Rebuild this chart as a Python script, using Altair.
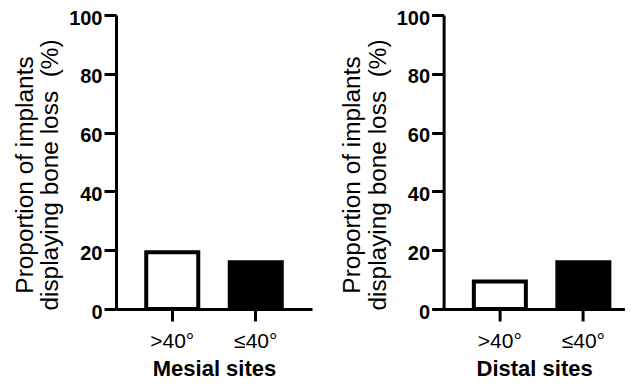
import altair as alt
import pandas as pd

categories = [">40°", "≤40°"]
mesial_values = [20.0, 16.6]
distal_values = [10.0, 16.6]
panel_titles = ["Mesial sites", "Distal sites"]
y_ticks = [0, 20, 40, 60, 80, 100]
y_title = ["Proportion of implants", "displaying bone loss \u00a0(%)"]
bar_fills = ["white", "black"]

FONT = "Liberation Sans"


def panel(values, title, width, pad_outer, align):
    df = pd.DataFrame({"group": categories, "value": values})
    return (
        alt.Chart(df)
        .mark_bar(stroke="black", strokeWidth=4, yOffset=2, strokeJoin="miter")
        .encode(
            x=alt.X(
                "group:N",
                sort=categories,
                title=title,
                scale=alt.Scale(paddingInner=0.377, paddingOuter=pad_outer, align=align),
                axis=alt.Axis(
                    labelAngle=0,
                    labelFont=FONT,
                    labelFontSize=21,
                    labelColor="black",
                    labelPadding=9,
                    titleFont=FONT,
                    titleFontSize=22,
                    titleFontWeight="bold",
                    titleColor="black",
                    titlePadding=7,
                    domainColor="black",
                    domainWidth=3,
                    tickColor="black",
                    tickWidth=3,
                    tickSize=12,
                    grid=False,
                    zindex=1,
                ),
            ),
            y=alt.Y(
                "value:Q",
                stack=None,
                scale=alt.Scale(domain=[0, 100], nice=False),
                axis=alt.Axis(
                    values=y_ticks,
                    title=y_title,
                    labelFont=FONT,
                    labelFontSize=20,
                    labelFontWeight="bold",
                    labelColor="black",
                    labelPadding=2,
                    labelOffset=3,
                    titleFont=FONT,
                    titleFontSize=24.4,
                    titleFontWeight="normal",
                    titleColor="black",
                    titleLineHeight=25.6,
                    titlePadding=6,
                    titleY=159.5,
                    domainColor="black",
                    domainWidth=3,
                    tickColor="black",
                    tickWidth=3,
                    tickSize=12,
                    grid=False,
                    zindex=1,
                ),
            ),
            fill=alt.Fill(
                "group:N",
                scale=alt.Scale(domain=categories, range=bar_fills),
                legend=None,
            ),
        )
        .properties(width=width, height=294)
    )


left = panel(mesial_values, panel_titles[0], 196, 0.362, 0.5)
right = panel(distal_values, panel_titles[1], 181, 0.2723, 0.665)

chart = (
    alt.hconcat(left, right, spacing=27.6)
    .properties(padding={"left": 4, "top": 0, "right": 0, "bottom": 0}, background="white")
    .configure_view(stroke=None)
)

chart.save("out.html", embed_options={"renderer": "svg", "actions": False})
